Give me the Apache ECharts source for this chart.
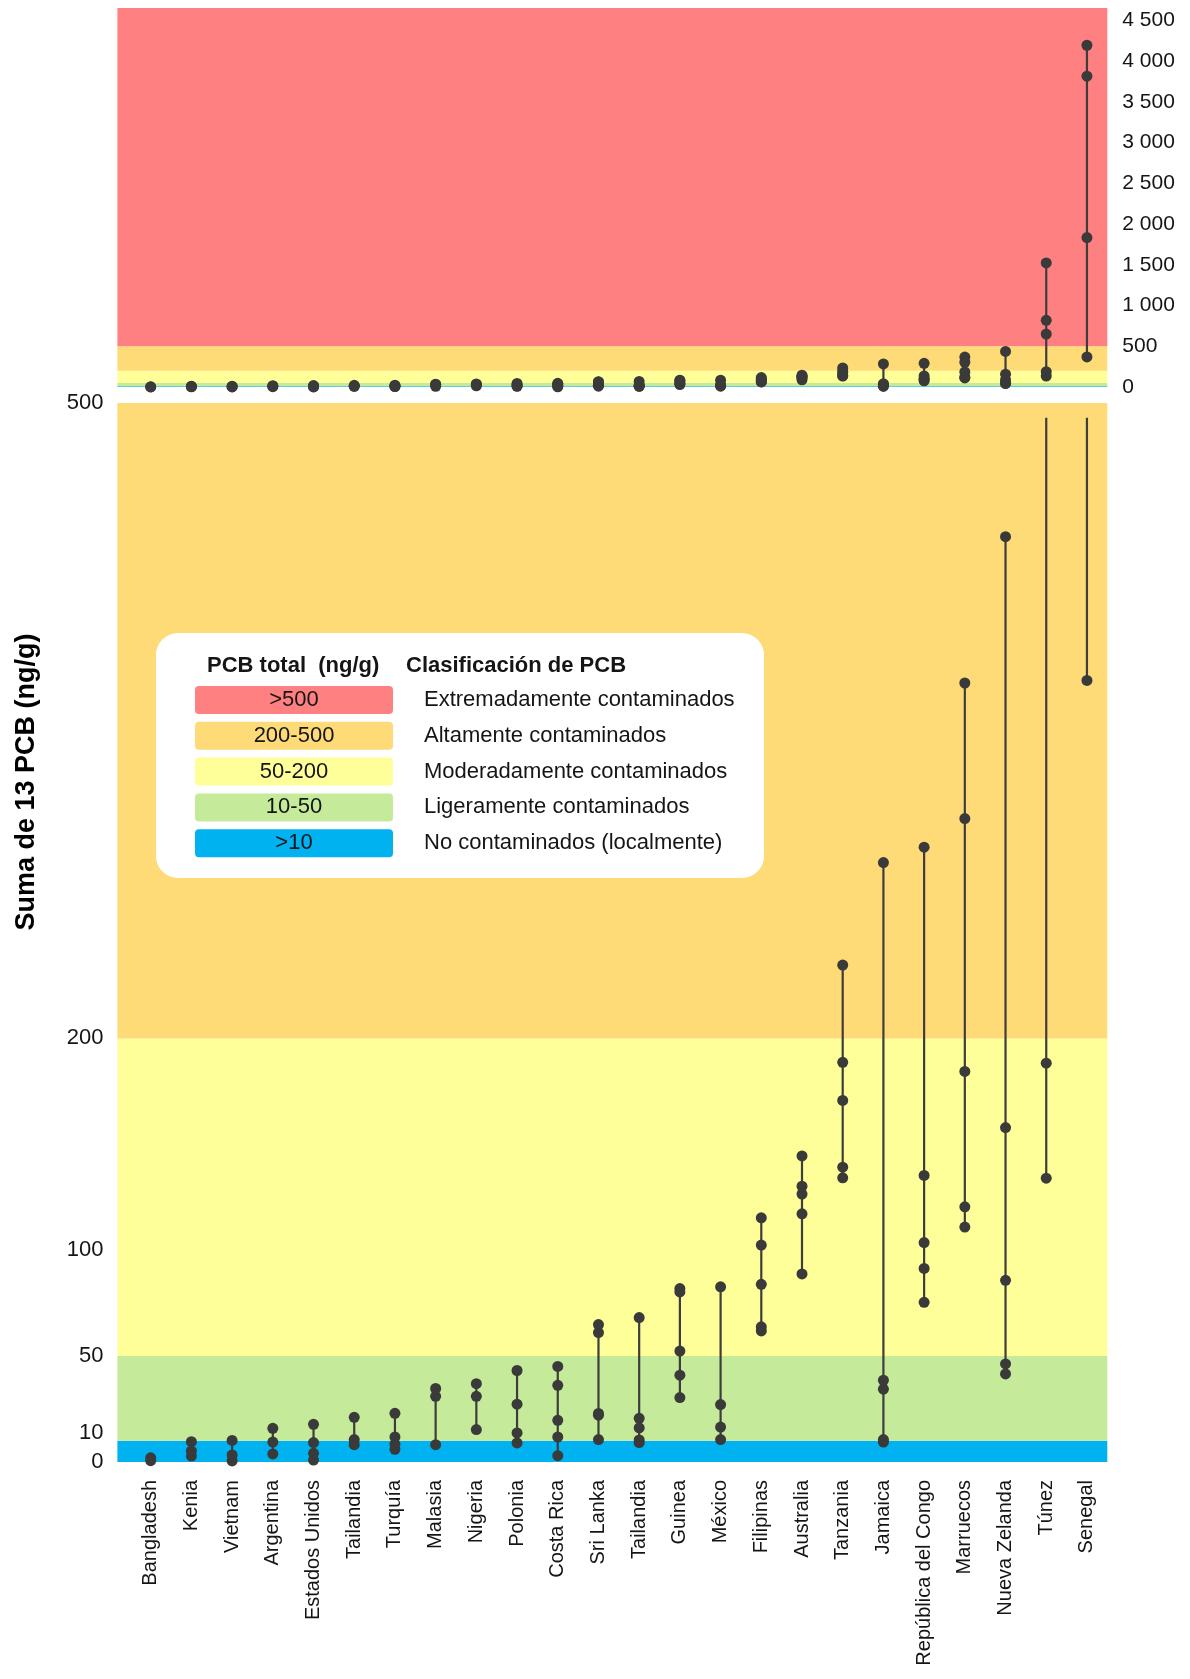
<!DOCTYPE html>
<html>
<head>
<meta charset="utf-8">
<script src="https://cdn.jsdelivr.net/npm/echarts@6/dist/echarts.min.js"></script>
<style>
  html, body { margin: 0; padding: 0; background: #ffffff; }
  #chart { width: 1190px; height: 1679px; }
</style>
</head>
<body>
<div id="chart"></div>
<script>
// Sampling sites (one column each, left to right)
const countries = [
  'Bangladesh', 'Kenia', 'Vietnam', 'Argentina', 'Estados Unidos', 'Tailandia',
  'Turquía', 'Malasia', 'Nigeria', 'Polonia', 'Costa Rica', 'Sri Lanka',
  'Tailandia', 'Guinea', 'México', 'Filipinas', 'Australia', 'Tanzania',
  'Jamaica', 'República del Congo', 'Marruecos', 'Nueva Zelanda', 'Túnez', 'Senegal'
];

// Sum of 13 PCB congeners per sample (ng/g), one list per site
const pcbSamples = [
  [0.6, 2.0],
  [2.8, 5.2, 9.6],
  [0.5, 3.3, 10.2],
  [3.8, 9.4, 15.9],
  [0.9, 4.1, 9.2, 17.8],
  [8.2, 10.6, 21.1],
  [6.0, 8.4, 11.8, 23.0],
  [8.2, 31.0, 34.7],
  [15.3, 31.0, 37.0],
  [9.0, 13.7, 27.3, 43.2],
  [3.0, 11.8, 19.7, 36.2, 45.1],
  [10.6, 22.1, 22.9, 61.1, 64.9],
  [9.2, 10.4, 16.1, 20.6, 68.2],
  [30.4, 41.0, 52.4, 80.3, 81.9],
  [10.6, 16.5, 27.1, 82.7],
  [61.9, 63.8, 83.9, 102.4, 115.3],
  [88.8, 117.2, 126.5, 130.2, 144.5],
  [134.2, 139.2, 170.7, 188.7, 234.6],
  [9.4, 10.6, 34.4, 38.6, 283.0],
  [75.4, 91.4, 103.6, 135.3, 290.3],
  [110.9, 120.5, 184.4, 303.8, 367.8],
  [41.6, 46.3, 85.8, 157.9, 436.9],
  [134.0, 188.3, 650, 818, 1522],
  [369, 1833, 3813, 4193]
];

// Tick labels
const lowerTicks = [0, 10, 50, 100, 200, 500];
const upperTickStep = 500;

// Contamination classes
const classLimits = [0, 10, 50, 200, 500];
const classColors = ['#00B2EF', '#C5EA9A', '#FFFF99', '#FEDB77', '#FF8080'];
const classRanges = ['>10', '10-50', '50-200', '200-500', '>500'];
const classNames = [
  'No contaminados (localmente)',
  'Ligeramente contaminados',
  'Moderadamente contaminados',
  'Altamente contaminados',
  'Extremadamente contaminados'
];

const UPPER_MAX = 4650;      // full-range panel
const LOWER_MAX = 500;       // zoomed panel
const LOWER_LINE_TOP = 493;  // off-scale ranges stop just below the panel top

const FONT = '"Liberation Sans", Arial, sans-serif';
const INK = '#151515';
const DOT = '#3a3a3a';

// Use the narrow face for axis labels when it is installed
function textWidth(font) {
  const ctx = document.createElement('canvas').getContext('2d');
  ctx.font = font;
  return ctx.measureText('Bangladesh 4500').width;
}
const hasNarrow = textWidth('40px "Liberation Sans Narrow", monospace') !== textWidth('40px monospace');
const AXIS_FONT = hasNarrow ? '"Liberation Sans Narrow", "Liberation Sans", sans-serif' : FONT;
const X_LABEL_SIZE = hasNarrow ? 24 : 20;
const Y_LABEL_SIZE = hasNarrow ? 25 : 22;
const R_LABEL_SIZE = hasNarrow ? 24 : 21;

const points = [];
const ranges = [];
pcbSamples.forEach((vals, i) => {
  vals.forEach(v => points.push([i, v]));
  ranges.push([i, Math.min(...vals), Math.max(...vals)]);
});

function bandAreas(panelMax) {
  const out = [];
  classLimits.forEach((lo, k) => {
    if (lo >= panelMax) return;
    const hi = k < classLimits.length - 1 ? Math.min(classLimits[k + 1], panelMax) : panelMax;
    out.push([{ yAxis: lo, itemStyle: { color: classColors[k] } }, { yAxis: hi }]);
  });
  return out;
}

function rangeRenderer(cap) {
  return function (params, api) {
    const x = api.value(0);
    const lo = api.value(1);
    const hi = Math.min(api.value(2), cap);
    if (hi <= lo) return null;
    const p1 = api.coord([x, lo]);
    const p2 = api.coord([x, hi]);
    return {
      type: 'line',
      shape: { x1: p1[0], y1: p1[1], x2: p2[0], y2: p2[1] },
      style: { stroke: '#3d3d3d', lineWidth: 2.2 }
    };
  };
}

const xMin = -0.818, xMax = 23.5;

const chart = echarts.init(document.getElementById('chart'), null, { renderer: 'canvas' });

const legendGraphics = [
  { type: 'rect', shape: { x: 156, y: 633, width: 608, height: 245, r: 22 }, style: { fill: '#ffffff' }, z: 100 },
  { type: 'text', x: 207, y: 666, z: 101, style: { text: 'PCB total  (ng/g)', fill: INK, font: 'bold 22px ' + FONT, verticalAlign: 'middle' } },
  { type: 'text', x: 406, y: 666, z: 101, style: { text: 'Clasificación de PCB', fill: INK, font: 'bold 22px ' + FONT, verticalAlign: 'middle' } }
];
[4, 3, 2, 1, 0].forEach((k, r) => {
  const cy = 700 + r * 35.8;
  legendGraphics.push({ type: 'rect', z: 101, shape: { x: 195, y: cy - 14, width: 198, height: 28, r: 4 }, style: { fill: classColors[k] } });
  legendGraphics.push({ type: 'text', z: 102, x: 294, y: cy, style: { text: classRanges[k], fill: INK, font: '22px ' + FONT, align: 'center', verticalAlign: 'middle' } });
  legendGraphics.push({ type: 'text', z: 102, x: 424, y: cy, style: { text: classNames[k], fill: INK, font: '22px ' + FONT, verticalAlign: 'middle' } });
});
legendGraphics.push({
  type: 'text', z: 102, x: 27, y: 782, rotation: Math.PI / 2,
  style: { text: 'Suma de 13 PCB (ng/g)', fill: '#000', font: 'bold 27px ' + FONT, align: 'center', verticalAlign: 'middle' }
});

chart.setOption({
  animation: false,
  backgroundColor: '#ffffff',
  grid: [
    { left: 117.4, right: 82.7, top: 8, height: 379, containLabel: false, outerBoundsMode: 'none' },
    { left: 117.4, right: 82.7, top: 403, height: 1059, containLabel: false, outerBoundsMode: 'none' }
  ],
  xAxis: [
    { type: 'value', gridIndex: 0, min: xMin, max: xMax, show: false },
    {
      type: 'value', gridIndex: 1, min: xMin, max: xMax,
      axisLine: { show: false }, axisTick: { show: false }, splitLine: { show: false },
      axisLabel: {
        customValues: countries.map((c, i) => i),
        formatter: v => countries[Math.round(v)],
        rotate: 90, margin: 18, color: INK, fontSize: X_LABEL_SIZE, fontFamily: AXIS_FONT
      }
    }
  ],
  yAxis: [
    {
      type: 'value', gridIndex: 0, position: 'right', min: 0, max: UPPER_MAX, interval: upperTickStep,
      axisLine: { show: false }, axisTick: { show: false }, splitLine: { show: false },
      axisLabel: {
        margin: 15, color: INK, fontSize: R_LABEL_SIZE, fontFamily: AXIS_FONT,
        formatter: v => v >= 1000 ? String(v).replace(/(\d)(\d{3})$/, '$1 $2') : String(v),
        showMaxLabel: false
      }
    },
    {
      type: 'value', gridIndex: 1, min: 0, max: LOWER_MAX,
      axisLine: { show: false }, axisTick: { show: false }, splitLine: { show: false },
      axisLabel: {
        customValues: lowerTicks,
        margin: 14, color: INK, fontSize: Y_LABEL_SIZE, fontFamily: AXIS_FONT,
        formatter: v => v === 10 ? '{lift|10}' : String(v),
        rich: { lift: { fontSize: Y_LABEL_SIZE, fontFamily: AXIS_FONT, color: INK, padding: [0, 0, 16, 0] } }
      }
    }
  ],
  series: [
    { type: 'line', xAxisIndex: 0, yAxisIndex: 0, data: [], z: 0, silent: true,
      markArea: { silent: true, data: bandAreas(UPPER_MAX) } },
    { type: 'line', xAxisIndex: 1, yAxisIndex: 1, data: [], z: 0, silent: true,
      markArea: { silent: true, data: bandAreas(LOWER_MAX) } },
    { type: 'custom', xAxisIndex: 0, yAxisIndex: 0, data: ranges, z: 2, clip: false,
      encode: { x: 0, y: [1, 2] }, renderItem: rangeRenderer(Infinity) },
    { type: 'custom', xAxisIndex: 1, yAxisIndex: 1, data: ranges, z: 2, clip: false,
      encode: { x: 0, y: [1, 2] }, renderItem: rangeRenderer(LOWER_LINE_TOP) },
    { type: 'scatter', xAxisIndex: 0, yAxisIndex: 0, data: points, z: 3, clip: false,
      symbolSize: 11, itemStyle: { color: DOT, opacity: 1 } },
    { type: 'scatter', xAxisIndex: 1, yAxisIndex: 1, data: points.filter(p => p[1] <= LOWER_MAX), z: 3, clip: false,
      symbolSize: 11, itemStyle: { color: DOT, opacity: 1 } }
  ],
  graphic: legendGraphics
});
</script>
</body>
</html>
